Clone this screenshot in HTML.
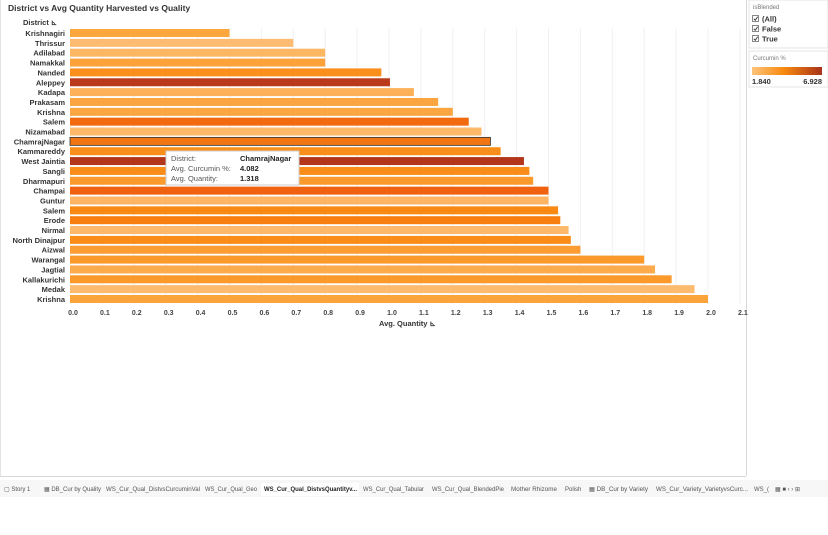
<!DOCTYPE html>
<html><head><style>
body{margin:0;background:#fff;width:828px;height:530px;overflow:hidden;font-family:"Liberation Sans",sans-serif;}
</style></head><body>
<svg width="828" height="530" xmlns="http://www.w3.org/2000/svg" font-family="Liberation Sans, sans-serif">
<rect x="0" y="0" width="828" height="530" fill="#fff"/>
<line x1="746.5" y1="0" x2="746.5" y2="476" stroke="#d8d8d8"/>
<line x1="0" y1="476.5" x2="746" y2="476.5" stroke="#d8d8d8"/>
<line x1="0.5" y1="0" x2="0.5" y2="476" stroke="#e4e4e4"/>
<text x="8" y="11" font-size="8.5" font-weight="bold" fill="#333">District vs Avg Quantity Harvested vs Quality</text>
<text x="23" y="25" font-size="7.5" font-weight="bold" fill="#333">District ⊾</text>
<g stroke="#f0f0f0">
<line x1="101.9" y1="28" x2="101.9" y2="304"/><line x1="133.8" y1="28" x2="133.8" y2="304"/><line x1="165.7" y1="28" x2="165.7" y2="304"/><line x1="197.6" y1="28" x2="197.6" y2="304"/><line x1="229.5" y1="28" x2="229.5" y2="304"/><line x1="261.4" y1="28" x2="261.4" y2="304"/><line x1="293.3" y1="28" x2="293.3" y2="304"/><line x1="325.2" y1="28" x2="325.2" y2="304"/><line x1="357.1" y1="28" x2="357.1" y2="304"/><line x1="389" y1="28" x2="389" y2="304"/><line x1="420.9" y1="28" x2="420.9" y2="304"/><line x1="452.8" y1="28" x2="452.8" y2="304"/><line x1="484.7" y1="28" x2="484.7" y2="304"/><line x1="516.6" y1="28" x2="516.6" y2="304"/><line x1="548.5" y1="28" x2="548.5" y2="304"/><line x1="580.4" y1="28" x2="580.4" y2="304"/><line x1="612.3" y1="28" x2="612.3" y2="304"/><line x1="644.2" y1="28" x2="644.2" y2="304"/><line x1="676.1" y1="28" x2="676.1" y2="304"/><line x1="708" y1="28" x2="708" y2="304"/><line x1="739.9" y1="28" x2="739.9" y2="304"/>
</g>
<g id="bars"></g>
<g id="labels" font-size="7.5" font-weight="bold" fill="#333" text-anchor="end"></g>
<g font-size="7" font-weight="bold" fill="#444" text-anchor="middle" id="ticks"></g>
<text x="379" y="326" font-size="7.5" font-weight="bold" fill="#333">Avg. Quantity ⊾</text>
<rect x="166" y="151" width="133" height="34" fill="#fff" stroke="#ccc"/>
<g font-size="7.5" fill="#555"><text x="171" y="161">District:</text><text x="171" y="171">Avg. Curcumin %:</text><text x="171" y="181">Avg. Quantity:</text></g>
<g font-size="7.5" font-weight="bold" fill="#222"><text x="240" y="161">ChamrajNagar</text><text x="240" y="171">4.082</text><text x="240" y="181">1.318</text></g>
<rect x="749" y="0" width="79" height="48" fill="#fff" stroke="#e4e4e4"/>
<text x="753" y="9" font-size="6" fill="#777">isBlended</text>
<g font-size="7.5" font-weight="bold" fill="#333">
<rect x="752.5" y="15.5" width="6" height="6" fill="#fff" stroke="#888"/><text x="762" y="21.5">(All)</text>
<rect x="752.5" y="25.5" width="6" height="6" fill="#fff" stroke="#888"/><text x="762" y="31.5">False</text>
<rect x="752.5" y="35.5" width="6" height="6" fill="#fff" stroke="#888"/><text x="762" y="41.5">True</text>
</g>
<g stroke="#333" stroke-width="0.9" fill="none">
<path d="M753.8 18.8 L755.3 20.3 L757.6 16.8"/><path d="M753.8 28.8 L755.3 30.3 L757.6 26.8"/><path d="M753.8 38.8 L755.3 40.3 L757.6 36.8"/>
</g>
<rect x="749" y="51" width="79" height="36" fill="#fff" stroke="#e4e4e4"/>
<text x="753" y="60" font-size="6" fill="#777">Curcumin %</text>
<defs><linearGradient id="g"><stop offset="0" stop-color="#fdc47a"/><stop offset="0.45" stop-color="#f88a10"/><stop offset="1" stop-color="#a8321a"/></linearGradient></defs>
<rect x="752" y="67" width="70" height="8" fill="url(#g)"/>
<text x="752" y="84" font-size="7.5" font-weight="bold" fill="#333">1.840</text>
<text x="822" y="84" font-size="7.5" font-weight="bold" fill="#333" text-anchor="end">6.928</text>
<rect x="0" y="480" width="828" height="17" fill="#f7f7f7"/>
<g font-size="6" fill="#555">
<text x="4" y="491">▢ Story 1</text><text x="44" y="491">▦ DB_Cur by Quality</text><text x="106" y="491" textLength="94" lengthAdjust="spacingAndGlyphs">WS_Cur_Qual_DistvsCurcuminVal</text><text x="205" y="491" textLength="52" lengthAdjust="spacingAndGlyphs">WS_Cur_Qual_Geo</text>
<rect x="261" y="483" width="98" height="13" fill="#fff"/><text x="264" y="491" font-weight="bold" fill="#222" textLength="93" lengthAdjust="spacingAndGlyphs">WS_Cur_Qual_DistvsQuantityv...</text>
<text x="363" y="491" textLength="61" lengthAdjust="spacingAndGlyphs">WS_Cur_Qual_Tabular</text><text x="432" y="491" textLength="72" lengthAdjust="spacingAndGlyphs">WS_Cur_Qual_BlendedPie</text><text x="511" y="491" textLength="46" lengthAdjust="spacingAndGlyphs">Mother Rhizome</text><text x="565" y="491">Polish</text><text x="589" y="491" textLength="59" lengthAdjust="spacingAndGlyphs">▦ DB_Cur by Variety</text><text x="656" y="491" textLength="92" lengthAdjust="spacingAndGlyphs">WS_Cur_Variety_VarietyvsCurc...</text><text x="754" y="491">WS_(</text>
<text x="775" y="491">▦ ■ ‹ › ⊞</text>
</g>
</svg>
<script>
const d=[["Krishnagiri",0.5,"#fba73e"],["Thrissur",0.7,"#fdbc72"],["Adilabad",0.8,"#fdb762"],["Namakkal",0.8,"#fba23a"],["Nanded",0.976,"#fa8f1c"],["Aleppey",1.003,"#b9391a"],["Kadapa",1.078,"#fcb057"],["Prakasam",1.154,"#fba540"],["Krishna",1.2,"#fba640"],["Salem",1.25,"#f26a0e"],["Nizamabad",1.29,"#fdb869"],["ChamrajNagar",1.318,"#f17512"],["Kammareddy",1.35,"#fa8e1a"],["West Jaintia",1.423,"#b3361a"],["Sangli",1.44,"#fa8d18"],["Dharmapuri",1.452,"#fb9a2c"],["Champai",1.5,"#f0620f"],["Guntur",1.5,"#fdb464"],["Salem",1.53,"#fa8914"],["Erode",1.537,"#f97e10"],["Nirmal",1.563,"#fdb86a"],["North Dinajpur",1.57,"#fa8c18"],["Aizwal",1.6,"#fb9d32"],["Warangal",1.8,"#fb9a2a"],["Jagtial",1.834,"#fcab4c"],["Kallakurichi",1.886,"#fb9a2a"],["Medak",1.958,"#fdbb70"],["Krishna",2.0,"#fca43c"]];
const NS="http://www.w3.org/2000/svg",b=document.getElementById("bars"),l=document.getElementById("labels"),t=document.getElementById("ticks");
const x0=70,s=319,y0=33,dy=(299-33)/27;
d.forEach((r,i)=>{const y=y0+i*dy;const e=document.createElementNS(NS,"rect");e.setAttribute("x",x0);e.setAttribute("y",y-4);e.setAttribute("width",r[1]*s);e.setAttribute("height",8);e.setAttribute("fill",r[2]);if(r[0]=="ChamrajNagar"){e.setAttribute("stroke","#333");e.setAttribute("stroke-width","0.8");}b.appendChild(e);
const tx=document.createElementNS(NS,"text");tx.setAttribute("x",65);tx.setAttribute("y",y+3);tx.textContent=r[0];l.appendChild(tx);});
for(let i=0;i<=21;i++){const tx=document.createElementNS(NS,"text");tx.setAttribute("x",x0+i*s/10+3);tx.setAttribute("y",315);tx.textContent=(i/10).toFixed(1);t.appendChild(tx);}
</script>
</body></html>
